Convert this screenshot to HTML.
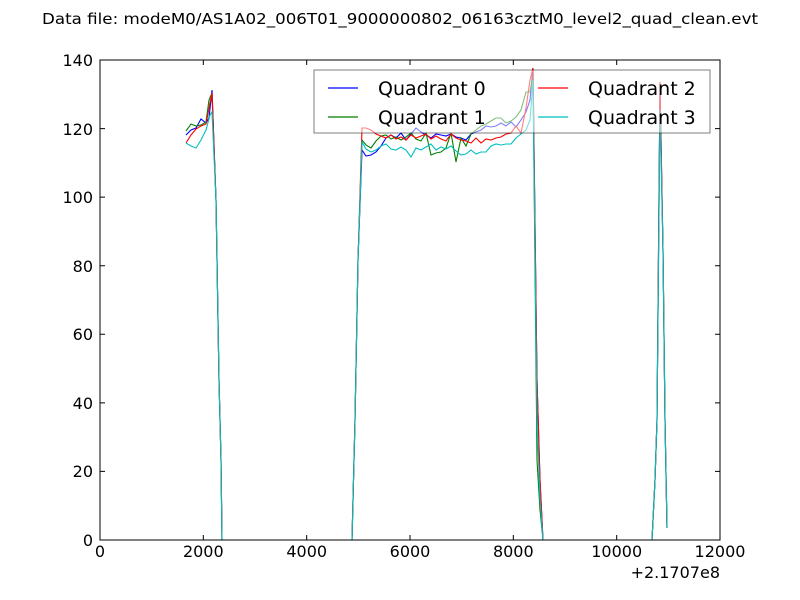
<!DOCTYPE html>
<html><head><meta charset="utf-8"><style>
body{margin:0;background:#fff;}
svg{display:block;font-family:"DejaVu Sans","Liberation Sans",sans-serif;}
</style></head><body>
<svg width="800" height="600" viewBox="0 0 800 600">
<rect width="800" height="600" fill="#fff"/>
<text x="42" y="24" font-size="15" textLength="716" lengthAdjust="spacingAndGlyphs">Data file: modeM0/AS1A02_006T01_9000000802_06163cztM0_level2_quad_clean.evt</text>
<g fill="none" stroke-width="1.1">
<polyline stroke="#0000ff" points="186,135 191,130 196,128 201,119 206,123 209,118 212,90 216,200 219,380 221,460 222,540 352,540 355,420 358,260 362,150 366,156 371,155 376,152 381,146 386,138 391,135 396,138 401,133 406,140 411,134 416,128 421,132 426,135 431,138 436,134 441,135 446,136 451,134 456,137 461,138 466,140 471,134 476,132 481,130 486,126 491,127 496,126 501,123 506,126 511,122 516,127 521,120 526,112 530,100 533,68 537,380 540,480 543,540 652,540 655,480 657,420 660,84 663,250 665,420 667,528"/>
<polyline stroke="#008000" points="186,131 191,124 196,126 201,125 206,122 209,100 212,93 216,200 219,380 221,460 222,540 352,540 355,420 358,260 362,140 366,145 371,148 376,141 381,136 386,135 391,139 396,137 401,140 406,137 411,133 416,139 421,141 426,133 431,155 436,153 441,152 446,148 451,133 456,162 461,138 466,146 471,134 476,130 481,126 486,124 491,121 496,118 501,118 506,123 511,121 516,117 521,110 526,92 530,92 533,75 537,460 540,510 543,540 652,540 655,480 657,420 660,100 663,250 665,420 667,528"/>
<polyline stroke="#ff0000" points="186,143 191,135 196,129 201,126 206,124 210,103 212,93 216,200 219,380 221,460 222,540 352,540 355,420 358,260 362,128 366,128 371,130 376,134 381,136 386,138 391,135 396,139 401,137 406,140 411,135 416,138 421,136 426,134 431,139 436,136 441,139 446,141 451,134 456,138 461,140 466,141 471,143 476,138 481,143 486,139 491,140 496,138 501,137 506,134 511,133 516,126 521,133 526,108 530,80 533,68 537,380 540,480 543,540 652,540 655,480 657,420 660,82 663,250 665,420 667,528"/>
<polyline stroke="#00bfbf" points="186,143 191,146 196,148 201,140 206,130 210,115 212,112 216,200 219,380 221,460 222,540 352,540 355,420 358,260 362,142 366,149 371,152 376,150 381,146 386,144 391,149 396,150 401,147 406,150 411,157 416,148 421,150 426,147 431,144 436,150 441,147 446,149 451,146 456,151 461,155 466,154 471,150 476,154 481,152 486,152 491,146 496,144 501,145 506,144 511,144 516,138 521,134 526,130 530,120 533,80 537,420 540,500 543,540 652,540 655,480 657,420 660,110 663,250 665,420 667,528"/>
</g>
<rect x="314" y="70" width="396" height="63" fill="#fff" fill-opacity="0.5" stroke="#000" stroke-opacity="0.5"/>
<g stroke-width="1.2">
<line x1="328" y1="88" x2="358" y2="88" stroke="#0000ff"/>
<line x1="328" y1="117" x2="358" y2="117" stroke="#008000"/>
<line x1="538" y1="88" x2="568" y2="88" stroke="#ff0000"/>
<line x1="538" y1="117" x2="568" y2="117" stroke="#00bfbf"/>
</g>
<g font-size="19">
<text x="378" y="95">Quadrant 0</text>
<text x="378" y="124">Quadrant 1</text>
<text x="588" y="95">Quadrant 2</text>
<text x="588" y="124">Quadrant 3</text>
</g>
<rect x="100" y="60" width="620" height="480" fill="none" stroke="#000" stroke-width="1"/>
<g stroke="#000" stroke-width="1">
<path d="M100,540v-5M203.3,540v-5M306.7,540v-5M410,540v-5M513.3,540v-5M616.7,540v-5M720,540v-5M100,60v5M203.3,60v5M306.7,60v5M410,60v5M513.3,60v5M616.7,60v5M720,60v5"/>
<path d="M100,540h5M100,471.4h5M100,402.9h5M100,334.3h5M100,265.7h5M100,197.1h5M100,128.6h5M100,60h5M720,540h-5M720,471.4h-5M720,402.9h-5M720,334.3h-5M720,265.7h-5M720,197.1h-5M720,128.6h-5M720,60h-5"/>
</g>
<g font-size="16" text-anchor="middle">
<text x="100" y="557">0</text><text x="203.3" y="557">2000</text><text x="306.7" y="557">4000</text><text x="410" y="557">6000</text><text x="513.3" y="557">8000</text><text x="616.7" y="557">10000</text><text x="720" y="557">12000</text>
</g>
<text x="720" y="578" font-size="16" text-anchor="end">+2.1707e8</text>
<g font-size="16" text-anchor="end">
<text x="93" y="546">0</text><text x="93" y="477">20</text><text x="93" y="409">40</text><text x="93" y="340">60</text><text x="93" y="272">80</text><text x="93" y="203">100</text><text x="93" y="135">120</text><text x="93" y="66">140</text>
</g>
</svg>
</body></html>
